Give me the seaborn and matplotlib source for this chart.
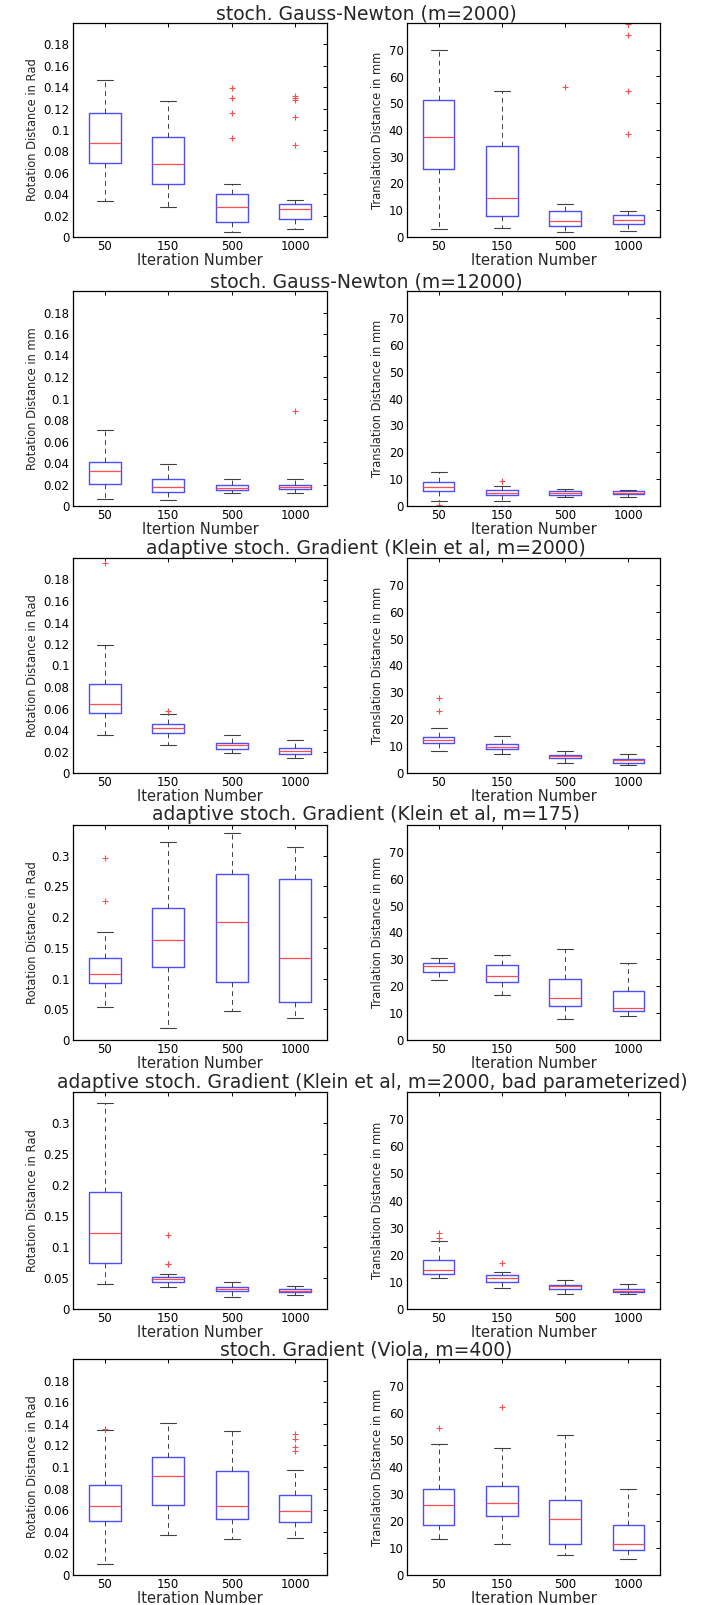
import matplotlib
matplotlib.use("Agg")
import matplotlib.pyplot as plt
import seaborn as sns
import numpy as np

# ---------------- data ----------------
iterations = ["50", "150", "500", "1000"]

titles = [
    "stoch. Gauss-Newton (m=2000)",
    "stoch. Gauss-Newton (m=12000)",
    "adaptive stoch. Gradient (Klein et al, m=2000)",
    "adaptive stoch. Gradient (Klein et al, m=175)",
    "adaptive stoch. Gradient (Klein et al, m=2000, bad parameterized)",
    "stoch. Gradient (Viola, m=400)",
]
rot_ylabels = ["Rotation Distance in Rad", "Rotation Distance in mm", "Rotation Distance in Rad",
               "Rotation Distance in Rad", "Rotation Distance in Rad", "Rotation Distance in Rad"]
trans_ylabels = ["Translation Distance in mm", "Translation Distance in mm", "Translation Distance in mm",
                 "Tranlation Distance in mm", "Translation Distance in mm", "Translation Distance in mm"]
rot_xlabels = ["Iteration Number", "Itertion Number", "Iteration Number",
               "Iteration Number", "Iteration Number", "Iteration Number"]
trans_xlabel = "Iteration Number"

rot_ticks_small = [0, 0.02, 0.04, 0.06, 0.08, 0.1, 0.12, 0.14, 0.16, 0.18]
rot_ticks_large = [0, 0.05, 0.1, 0.15, 0.2, 0.25, 0.3]
trans_ticks = [0, 10, 20, 30, 40, 50, 60, 70]
rot_ylim_small = 0.2
rot_ylim_large = 0.35
trans_ylim = 80

# stoch. Gauss-Newton (m=2000)
gn2000_rot_low = [0.0336, 0.0280, 0.0047, 0.0075]
gn2000_rot_q1 = [0.0696, 0.0497, 0.0140, 0.0171]
gn2000_rot_med = [0.0877, 0.0681, 0.0280, 0.0261]
gn2000_rot_q3 = [0.1157, 0.0933, 0.0401, 0.0305]
gn2000_rot_high = [0.1467, 0.1268, 0.0497, 0.0348]
gn2000_rot_out = [[], [], [0.139, 0.1296, 0.1157, 0.0926], [0.1321, 0.1300, 0.1280, 0.1119, 0.0858]]

gn2000_tr_low = [3.0, 3.2, 1.9, 2.2]
gn2000_tr_q1 = [25.3, 7.9, 4.1, 4.8]
gn2000_tr_med = [37.2, 14.5, 6.0, 6.3]
gn2000_tr_q3 = [51.3, 34.1, 9.9, 8.4]
gn2000_tr_high = [70.0, 54.5, 12.4, 9.7]
gn2000_tr_out = [[], [], [56.1], [79.6, 75.6, 54.5, 38.4]]

# stoch. Gauss-Newton (m=12000)
gn12000_rot_low = [0.0062, 0.0056, 0.0118, 0.0118]
gn12000_rot_q1 = [0.0201, 0.0133, 0.0146, 0.0155]
gn12000_rot_med = [0.0322, 0.0180, 0.0164, 0.0173]
gn12000_rot_q3 = [0.0409, 0.0248, 0.0198, 0.0192]
gn12000_rot_high = [0.0709, 0.0390, 0.0254, 0.0248]
gn12000_rot_out = [[], [], [], [0.0886]]

gn12000_tr_low = [2.0, 2.0, 3.4, 3.4]
gn12000_tr_q1 = [5.6, 4.1, 4.1, 4.5]
gn12000_tr_med = [7.0, 4.8, 5.0, 5.0]
gn12000_tr_q3 = [8.8, 6.0, 5.6, 5.5]
gn12000_tr_high = [12.8, 7.4, 6.3, 6.0]
gn12000_tr_out = [[0.4], [9.2], [], []]

# adaptive stoch. Gradient (Klein et al, m=2000)
k2000_rot_low = [0.0356, 0.0260, 0.0186, 0.0142]
k2000_rot_q1 = [0.0557, 0.0374, 0.0220, 0.0179]
k2000_rot_med = [0.0640, 0.0418, 0.0260, 0.0207]
k2000_rot_q3 = [0.0826, 0.0455, 0.0278, 0.0229]
k2000_rot_high = [0.1188, 0.0550, 0.0350, 0.0303]
k2000_rot_out = [[0.1958], [0.0578], [], []]

k2000_tr_low = [8.3, 7.1, 3.7, 2.8]
k2000_tr_q1 = [11.2, 8.9, 5.5, 3.7]
k2000_tr_med = [12.3, 9.8, 6.2, 4.7]
k2000_tr_q3 = [13.4, 10.9, 6.7, 5.2]
k2000_tr_high = [16.6, 13.6, 8.2, 6.9]
k2000_tr_out = [[27.9, 23.0], [], [], []]

# adaptive stoch. Gradient (Klein et al, m=175)
k175_rot_low = [0.0545, 0.0196, 0.0469, 0.0355]
k175_rot_q1 = [0.0927, 0.1195, 0.0944, 0.0616]
k175_rot_med = [0.1080, 0.1631, 0.1925, 0.1336]
k175_rot_q3 = [0.1342, 0.2149, 0.2705, 0.2629]
k175_rot_high = [0.1756, 0.3229, 0.3365, 0.3147]
k175_rot_out = [[0.2962, 0.2258], [], [], []]

k175_tr_low = [22.3, 16.9, 7.8, 9.0]
k175_tr_q1 = [25.4, 21.7, 12.8, 10.7]
k175_tr_med = [27.6, 24.0, 15.6, 12.0]
k175_tr_q3 = [28.6, 28.0, 22.7, 18.2]
k175_tr_high = [30.5, 31.7, 33.9, 28.6]
k175_tr_out = [[], [], [], []]

# adaptive stoch. Gradient (Klein et al, m=2000, bad parameterized)
kbad_rot_low = [0.0399, 0.0351, 0.0197, 0.0224]
kbad_rot_q1 = [0.0744, 0.0431, 0.0298, 0.0272]
kbad_rot_med = [0.1227, 0.0479, 0.0330, 0.0298]
kbad_rot_q3 = [0.1890, 0.0521, 0.0362, 0.0320]
kbad_rot_high = [0.3324, 0.0569, 0.0442, 0.0378]
kbad_rot_out = [[], [0.1195, 0.0728, 0.0718], [], []]

kbad_tr_low = [11.3, 7.9, 5.7, 5.7]
kbad_tr_q1 = [12.9, 9.9, 7.3, 6.1]
kbad_tr_med = [14.2, 11.3, 8.3, 6.8]
kbad_tr_q3 = [17.9, 12.4, 9.0, 7.5]
kbad_tr_high = [25.0, 13.7, 10.8, 9.4]
kbad_tr_out = [[27.9, 26.1], [16.8], [], []]

# stoch. Gradient (Viola, m=400)
viola_rot_low = [0.0099, 0.0369, 0.0331, 0.0341]
viola_rot_q1 = [0.0499, 0.0647, 0.0520, 0.0490]
viola_rot_med = [0.0638, 0.0914, 0.0638, 0.0592]
viola_rot_q3 = [0.0833, 0.1090, 0.0963, 0.0740]
viola_rot_high = [0.1344, 0.1403, 0.1332, 0.0973]
viola_rot_out = [[0.1348], [], [], [0.1304, 0.1261, 0.1186, 0.1152]]

viola_tr_low = [13.5, 11.3, 7.4, 6.1]
viola_tr_q1 = [18.6, 22.0, 11.3, 9.4]
viola_tr_med = [26.1, 26.8, 20.9, 11.6]
viola_tr_q3 = [31.7, 32.8, 27.6, 18.6]
viola_tr_high = [48.7, 46.9, 51.8, 31.9]
viola_tr_out = [[54.3], [62.1], [], []]

rot_panels = [
    (gn2000_rot_low, gn2000_rot_q1, gn2000_rot_med, gn2000_rot_q3, gn2000_rot_high, gn2000_rot_out),
    (gn12000_rot_low, gn12000_rot_q1, gn12000_rot_med, gn12000_rot_q3, gn12000_rot_high, gn12000_rot_out),
    (k2000_rot_low, k2000_rot_q1, k2000_rot_med, k2000_rot_q3, k2000_rot_high, k2000_rot_out),
    (k175_rot_low, k175_rot_q1, k175_rot_med, k175_rot_q3, k175_rot_high, k175_rot_out),
    (kbad_rot_low, kbad_rot_q1, kbad_rot_med, kbad_rot_q3, kbad_rot_high, kbad_rot_out),
    (viola_rot_low, viola_rot_q1, viola_rot_med, viola_rot_q3, viola_rot_high, viola_rot_out),
]
tr_panels = [
    (gn2000_tr_low, gn2000_tr_q1, gn2000_tr_med, gn2000_tr_q3, gn2000_tr_high, gn2000_tr_out),
    (gn12000_tr_low, gn12000_tr_q1, gn12000_tr_med, gn12000_tr_q3, gn12000_tr_high, gn12000_tr_out),
    (k2000_tr_low, k2000_tr_q1, k2000_tr_med, k2000_tr_q3, k2000_tr_high, k2000_tr_out),
    (k175_tr_low, k175_tr_q1, k175_tr_med, k175_tr_q3, k175_tr_high, k175_tr_out),
    (kbad_tr_low, kbad_tr_q1, kbad_tr_med, kbad_tr_q3, kbad_tr_high, kbad_tr_out),
    (viola_tr_low, viola_tr_q1, viola_tr_med, viola_tr_q3, viola_tr_high, viola_tr_out),
]
rot_large_rows = [3, 4]

# ---------------- style ----------------
sns.set_style("white")
plt.rcParams["font.family"] = ["DejaVu Sans"]
plt.rcParams["axes.linewidth"] = 0.9
plt.rcParams["axes.edgecolor"] = "black"

BLUE = "#4d4dff"
RED = "#ff4d4d"

W, H = 707, 1605
fig = plt.figure(figsize=(W / 100, H / 100), dpi=100)
fig.patch.set_facecolor("white")

rows_px = [(23, 237), (291, 506), (558, 773), (825, 1040), (1092, 1309), (1359, 1575)]
title_y = [14, 282, 548, 815, 1083, 1350]
title_x = [366, 366, 366, 366, 372, 366]
left_x = (73, 327)
right_x = (407, 660)


def draw(ax, panel, ticks, ymax, xlabel, ylabel):
    low, q1, med, q3, high, out = panel
    stats = []
    for i, lab in enumerate(iterations):
        stats.append(dict(label=lab, whislo=low[i], q1=q1[i], med=med[i], q3=q3[i],
                          whishi=high[i], fliers=np.array(out[i], dtype=float)))
    ax.bxp(stats, positions=[1, 2, 3, 4], widths=0.5, capwidths=0.25, showfliers=True,
           boxprops=dict(color=BLUE, linewidth=1.0),
           medianprops=dict(color=RED, linewidth=0.9),
           whiskerprops=dict(color="0.25", linewidth=0.7, linestyle=(0, (5, 4))),
           capprops=dict(color="0.25", linewidth=0.8),
           flierprops=dict(marker="+", markeredgecolor=RED, markersize=5,
                           markeredgewidth=0.8, linestyle="none"))
    ax.set_xlim(0.5, 4.5)
    ax.set_ylim(0, ymax)
    ax.set_yticks(ticks)
    ax.set_yticklabels([f"{t:g}" for t in ticks])
    ax.tick_params(direction="in", top=True, right=True, length=3, width=0.7,
                   labelsize=8.5, pad=2.5, colors="black")
    ax.set_xlabel(xlabel, fontsize=10.5, labelpad=0)
    ax.set_ylabel(ylabel, fontsize=8.3, labelpad=3)
    for s in ax.spines.values():
        s.set_visible(True)
        s.set_color("black")
    ax.set_facecolor("white")


for r, (top, bot) in enumerate(rows_px):
    h = (bot - top) / H
    y0 = 1 - bot / H
    axl = fig.add_axes([left_x[0] / W, y0, (left_x[1] - left_x[0]) / W, h])
    axr = fig.add_axes([right_x[0] / W, y0, (right_x[1] - right_x[0]) / W, h])
    if r in rot_large_rows:
        draw(axl, rot_panels[r], rot_ticks_large, rot_ylim_large, rot_xlabels[r], rot_ylabels[r])
    else:
        draw(axl, rot_panels[r], rot_ticks_small, rot_ylim_small, rot_xlabels[r], rot_ylabels[r])
    draw(axr, tr_panels[r], trans_ticks, trans_ylim, trans_xlabel, trans_ylabels[r])
    fig.text(title_x[r] / W, 1 - title_y[r] / H, titles[r], ha="center", va="center", fontsize=13.5)

fig.savefig("out.png", dpi=100, facecolor="white")
